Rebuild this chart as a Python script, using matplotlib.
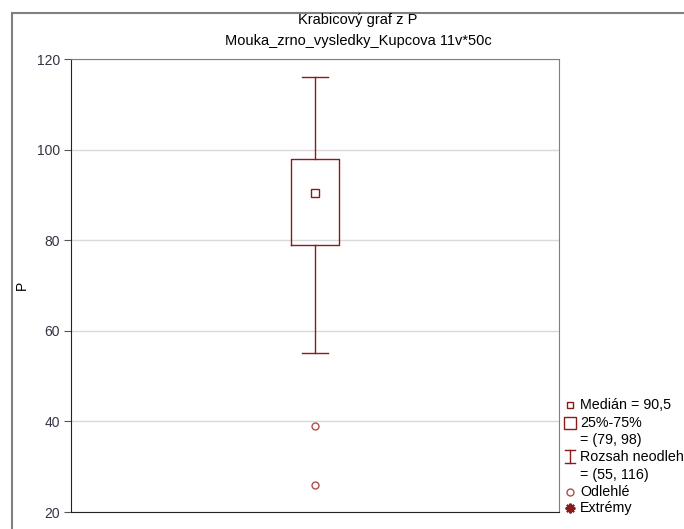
import matplotlib.pyplot as plt
from matplotlib.patches import Rectangle
from matplotlib.lines import Line2D

plt.rcParams['font.family'] = ['Liberation Sans', 'DejaVu Sans']

# souhrnne statistiky promenne P
median = 90.5
q1, q3 = 79, 98
whis_lo, whis_hi = 55, 116
outliers = [39, 26]
yticks = [20, 40, 60, 80, 100, 120]

red = '#8b1a1a'
W, H = 684, 529
fig = plt.figure(figsize=(W / 100, H / 100), dpi=100)


def fx(x):
    return x / W


def fy(y):
    return 1 - y / H


# sedy ramecek kolem grafu
fig.add_artist(Rectangle((fx(12), -0.1), 1.2, fy(13) + 0.1,
                         transform=fig.transFigure, fill=False,
                         edgecolor='#7f7f7f', lw=1.5))

ax = fig.add_axes([fx(71), fy(512), 488 / W, 453 / H])
stats = [dict(med=median, q1=q1, q3=q3, whislo=whis_lo, whishi=whis_hi,
              fliers=outliers)]
ax.bxp(stats, positions=[1], widths=0.197, capwidths=0.107,
       boxprops=dict(color=red, lw=1),
       whiskerprops=dict(color=red, lw=1),
       capprops=dict(color=red, lw=1),
       medianprops=dict(visible=False),
       flierprops=dict(marker='o', markersize=5, markerfacecolor='none',
                       markeredgecolor='#b05050', markeredgewidth=1))
ax.plot([1], [median], marker='s', markersize=6, markerfacecolor='none',
        markeredgecolor=red, markeredgewidth=1, ls='none')

ax.set_xlim(0, 2)
ax.set_ylim(20, 120)
ax.set_yticks(yticks)
ax.set_xticks([])
ax.yaxis.grid(True, color='#d9d9d9', lw=1)
ax.set_axisbelow(True)
ax.tick_params(axis='y', length=5, width=0.8, color='#555555',
               labelsize=10, labelcolor='#333344', pad=3)
ax.spines['left'].set_color('#222222')
ax.spines['bottom'].set_color('#222222')
ax.spines['right'].set_color('#7f7f7f')
ax.spines['top'].set_color('#7f7f7f')

fig.text(fx(22), fy(285), 'P', rotation=90, ha='center', va='center',
         fontsize=10)

fig.text(fx(358), fy(20), 'Krabicový graf z P', ha='center', va='center',
         fontsize=10.5)
fig.text(fx(358), fy(41), 'Mouka_zrno_vysledky_Kupcova 11v*50c',
         ha='center', va='center', fontsize=10.5)

# legenda vpravo dole
lx = fx(570)
tx = fx(580)
rows = [405, 423, 440, 457, 475, 492, 508]
texts = ['Medián = 90,5', '25%-75%', '= (79, 98)', 'Rozsah neodlehlých',
         '= (55, 116)', 'Odlehlé', 'Extrémy']
for y, t in zip(rows, texts):
    fig.text(tx, fy(y), t, ha='left', va='center', fontsize=10.3)

fig.add_artist(Line2D([lx], [fy(405)], marker='s', markersize=5,
                      markerfacecolor='none', markeredgecolor=red,
                      transform=fig.transFigure))
fig.add_artist(Line2D([lx], [fy(423)], marker='s', markersize=9,
                      markerfacecolor='none', markeredgecolor=red,
                      transform=fig.transFigure))
fig.add_artist(Line2D([lx, lx], [fy(450), fy(463)], color=red, lw=1,
                      transform=fig.transFigure))
for yy in (450, 463):
    fig.add_artist(Line2D([lx - fx(5), lx + fx(5)], [fy(yy), fy(yy)],
                          color=red, lw=1, transform=fig.transFigure))
fig.add_artist(Line2D([lx], [fy(492)], marker='o', markersize=5,
                      markerfacecolor='none', markeredgecolor='#b05050',
                      transform=fig.transFigure))
fig.add_artist(Line2D([lx], [fy(508)], marker=(8, 2, 0), markersize=7,
                      markeredgewidth=1.5, color=red,
                      transform=fig.transFigure))

fig.savefig('out.png', dpi=100)
